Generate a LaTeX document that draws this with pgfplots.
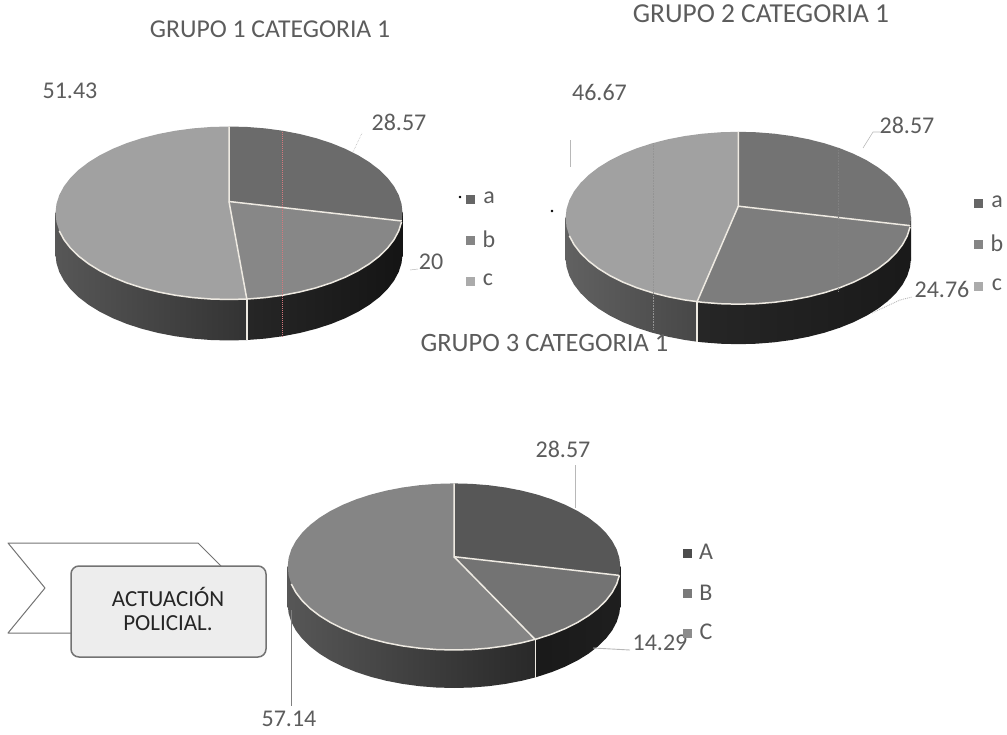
\documentclass[border=0pt]{standalone}
\usepackage{pgfplots}
\pgfplotsset{compat=1.18}
\usepackage{fontspec}
\setmainfont{Carlito}
\definecolor{ink}{gray}{0.36}
\definecolor{lead}{gray}{0.72}
\pgfplotsset{
  pieaxis/.style={hide axis, scale only axis, clip=false, xmin=-1, xmax=1, ymin=-1, ymax=1, anchor=south west},
  slice/.style={draw=none, fill=#1, data cs=polar},
  rim/.style={draw={rgb,255:red,238;green,234;blue,226}, line width=1.5pt, data cs=polar},
  sep/.style={draw={rgb,255:red,238;green,234;blue,226}, line width=1.6pt},
  wall/.style 2 args={draw=none, left color=#1, right color=#2},
  swatch/.style={only marks, mark=square*, mark size=4.3pt, mark options={draw=#1, fill=#1, line width=.1pt}},
}
\begin{document}
\begin{tikzpicture}[x=1pt,y=1pt]
\path[use as bounding box] (0,0) rectangle (1007pt,734pt);

% Grupo 1: a 28.57, b 20, c 51.43 (angles are seen in perspective on the ellipse)
\begin{axis}[pieaxis, width=347pt, height=173pt, at={(55.5pt,434.5pt)}]
  % side wall
  \addplot[wall={black!66}{black!80}] coordinates {(-1,0) (.1026,0) (.1026,-.504) (-1,-.504) (-1,0)};
  \addplot[wall={black!66}{black!80}, yshift=-41pt, data cs=polar] coordinates {(0,.1026) (180,1) (186,1) (192,1) (198,1) (204,1) (210,1) (216,1) (222,1) (228,1) (234,1) (240,1) (246,1) (252,1) (258,1) (264,1) (270,1) (275.9,1) (0,.1026)};
  \addplot[wall={black!85}{black!92}] coordinates {(.1026,0) (1,0) (1,-.504) (.1026,-.504) (.1026,0)};
  \addplot[wall={black!85}{black!92}, yshift=-41pt, data cs=polar] coordinates {(0,.1026) (275.9,1) (282,1) (288,1) (294,1) (300,1) (306,1) (312,1) (318,1) (324,1) (330,1) (336,1) (342,1) (348,1) (354,1) (360,1) (0,.1026)};
  \addplot[sep] coordinates {(.1026,-.995) (.1026,-1.469)};
  % top face
  \addplot[slice={black!58}] coordinates {(90,.133) (90,1) (84,1) (78,1) (72,1) (66,1) (60,1) (54,1) (48,1) (42,1) (36,1) (30,1) (24,1) (18,1) (12,1) (6,1) (0,1) (-5.3,1) (90,.133)};
  \addplot[slice={black!47}] coordinates {(90,.133) (-5.3,1) (-6,1) (-12,1) (-18,1) (-24,1) (-30,1) (-36,1) (-42,1) (-48,1) (-54,1) (-60,1) (-66,1) (-72,1) (-78,1) (-84,1) (-84.1,1) (90,.133)};
  \addplot[slice={black!37}] coordinates {(90,.133) (-84.1,1) (-90,1) (-96,1) (-102,1) (-108,1) (-114,1) (-120,1) (-126,1) (-132,1) (-138,1) (-144,1) (-150,1) (-156,1) (-162,1) (-168,1) (-174,1) (-180,1) (-186,1) (-192,1) (-198,1) (-204,1) (-210,1) (-216,1) (-222,1) (-228,1) (-234,1) (-240,1) (-246,1) (-252,1) (-258,1) (-264,1) (-270,1) (90,.133)};
  \addplot[rim] coordinates {(-168,1) (-162,1) (-156,1) (-150,1) (-144,1) (-138,1) (-132,1) (-126,1) (-120,1) (-114,1) (-108,1) (-102,1) (-96,1) (-90,1) (-84,1) (-78,1) (-72,1) (-66,1) (-60,1) (-54,1) (-48,1) (-42,1) (-36,1) (-30,1) (-24,1) (-18,1) (-12,1) (-6,1)};
  \addplot[rim] coordinates {(90,1) (90,.133) (-5.3,1)};
  \addplot[rim] coordinates {(90,.133) (-84.1,1)};
\end{axis}

% Grupo 2: a 28.57, b 24.76, c 46.67
\begin{axis}[pieaxis, width=345.4pt, height=172.4pt, at={(565.6pt,429.8pt)}]
  \addplot[wall={black!62}{black!72}] coordinates {(-1,0) (-.238,0) (-.238,-.494) (-1,-.494) (-1,0)};
  \addplot[wall={black!62}{black!72}, yshift=-40pt, data cs=polar] coordinates {(180,.238) (180,1) (186,1) (192,1) (198,1) (204,1) (210,1) (216,1) (222,1) (228,1) (234,1) (240,1) (246,1) (252,1) (256.2,1) (180,.238)};
  \addplot[wall={black!85}{black!90}] coordinates {(-.238,0) (1,0) (1,-.494) (-.238,-.494) (-.238,0)};
  \addplot[wall={black!85}{black!90}, yshift=-40pt, data cs=polar] coordinates {(180,.238) (256.2,1) (258,1) (264,1) (270,1) (276,1) (282,1) (288,1) (294,1) (300,1) (306,1) (312,1) (318,1) (324,1) (330,1) (336,1) (342,1) (348,1) (354,1) (360,1) (180,.238)};
  \addplot[sep] coordinates {(-.238,-.972) (-.238,-1.436)};
  \addplot[slice={black!55}] coordinates {(90,.137) (90,1) (84,1) (78,1) (72,1) (66,1) (60,1) (54,1) (48,1) (42,1) (36,1) (30,1) (24,1) (18,1) (12,1) (6,1) (0,1) (-5.1,1) (90,.137)};
  \addplot[slice={black!51}] coordinates {(90,.137) (-5.1,1) (-6,1) (-12,1) (-18,1) (-24,1) (-30,1) (-36,1) (-42,1) (-48,1) (-54,1) (-60,1) (-66,1) (-72,1) (-78,1) (-84,1) (-90,1) (-96,1) (-102,1) (-103.8,1) (90,.137)};
  \addplot[slice={black!37}] coordinates {(90,.137) (-103.8,1) (-108,1) (-114,1) (-120,1) (-126,1) (-132,1) (-138,1) (-144,1) (-150,1) (-156,1) (-162,1) (-168,1) (-174,1) (-180,1) (-186,1) (-192,1) (-198,1) (-204,1) (-210,1) (-216,1) (-222,1) (-228,1) (-234,1) (-240,1) (-246,1) (-252,1) (-258,1) (-264,1) (-270,1) (90,.137)};
  \addplot[rim] coordinates {(-168,1) (-162,1) (-156,1) (-150,1) (-144,1) (-138,1) (-132,1) (-126,1) (-120,1) (-114,1) (-108,1) (-102,1) (-96,1) (-90,1) (-84,1) (-78,1) (-72,1) (-66,1) (-60,1) (-54,1) (-48,1) (-42,1) (-36,1) (-30,1) (-24,1) (-18,1) (-12,1) (-6,1)};
  \addplot[rim] coordinates {(90,1) (90,.137) (-5.1,1)};
  \addplot[rim] coordinates {(90,.137) (-103.8,1)};
\end{axis}

% Grupo 3: A 28.57, B 14.29, C 57.14
\begin{axis}[pieaxis, width=332.6pt, height=166.6pt, at={(287.7pt,84pt)}]
  \addplot[wall={black!66}{black!84}] coordinates {(-1,0) (.489,0) (.489,-.486) (-1,-.486) (-1,0)};
  \addplot[wall={black!66}{black!84}, yshift=-38pt, data cs=polar] coordinates {(0,.489) (180,1) (186,1) (192,1) (198,1) (204,1) (210,1) (216,1) (222,1) (228,1) (234,1) (240,1) (246,1) (252,1) (258,1) (264,1) (270,1) (276,1) (282,1) (288,1) (294,1) (299.2,1) (0,.489)};
  \addplot[wall={black!90}{black!88}] coordinates {(.489,0) (1,0) (1,-.486) (.489,-.486) (.489,0)};
  \addplot[wall={black!90}{black!88}, yshift=-38pt, data cs=polar] coordinates {(0,.489) (299.2,1) (300,1) (306,1) (312,1) (318,1) (324,1) (330,1) (336,1) (342,1) (348,1) (354,1) (360,1) (0,.489)};
  \addplot[sep] coordinates {(.489,-.875) (.489,-1.331)};
  \addplot[slice={black!66}] coordinates {(90,.12) (90,1) (84,1) (78,1) (72,1) (66,1) (60,1) (54,1) (48,1) (42,1) (36,1) (30,1) (24,1) (18,1) (12,1) (6,1) (0,1) (-6,1) (90,.12)};
  \addplot[slice={black!55}] coordinates {(90,.12) (-6,1) (-12,1) (-18,1) (-24,1) (-30,1) (-36,1) (-42,1) (-48,1) (-54,1) (-60,1) (-60.8,1) (90,.12)};
  \addplot[slice={black!48}] coordinates {(90,.12) (-60.8,1) (-66,1) (-72,1) (-78,1) (-84,1) (-90,1) (-96,1) (-102,1) (-108,1) (-114,1) (-120,1) (-126,1) (-132,1) (-138,1) (-144,1) (-150,1) (-156,1) (-162,1) (-168,1) (-174,1) (-180,1) (-186,1) (-192,1) (-198,1) (-204,1) (-210,1) (-216,1) (-222,1) (-228,1) (-234,1) (-240,1) (-246,1) (-252,1) (-258,1) (-264,1) (-270,1) (90,.12)};
  \addplot[rim] coordinates {(-168,1) (-162,1) (-156,1) (-150,1) (-144,1) (-138,1) (-132,1) (-126,1) (-120,1) (-114,1) (-108,1) (-102,1) (-96,1) (-90,1) (-84,1) (-78,1) (-72,1) (-66,1) (-60,1) (-54,1) (-48,1) (-42,1) (-36,1) (-30,1) (-24,1) (-18,1) (-12,1) (-6,1)};
  \addplot[rim] coordinates {(90,1) (90,.12) (-6,1)};
  \addplot[rim] coordinates {(90,.12) (-60.8,1)};
\end{axis}

% Titles, value labels, legends and the ribbon, in page pixels
\begin{axis}[hide axis, scale only axis, clip=false, width=1007pt, height=734pt, at={(0pt,0pt)}, anchor=south west,
  xmin=0, xmax=1007, ymin=0, ymax=734, y dir=reverse,
  nodes={font=\fontsize{24}{27}\selectfont, text=ink, inner sep=0pt}]

  % scanning streaks across the first two discs
  \addplot[densely dotted, line width=1pt, draw={rgb,255:red,214;green,120;blue,125}] coordinates {(282,132) (282,337)};
  \addplot[densely dotted, line width=.6pt, draw=black!42] coordinates {(653,143) (653,330)};
  \addplot[densely dotted, line width=.6pt, draw=black!50] coordinates {(838,150) (838,292)};

  % leader lines
  \addplot[densely dotted, line width=.6pt, draw=lead] coordinates {(353,152) (362,133)};
  \addplot[line width=.5pt, draw=lead] coordinates {(410,270) (418,269)};
  \addplot[line width=.6pt, draw=lead] coordinates {(570,140) (570,167)};
  \addplot[line width=.6pt, draw=lead] coordinates {(863,148) (873,132) (880,132)};
  \addplot[densely dotted, line width=.9pt, draw=lead] coordinates {(872,313) (900,300) (912,297)};
  \addplot[line width=.6pt, draw=lead] coordinates {(575,465) (575,508)};
  \addplot[line width=.9pt, draw=lead] coordinates {(593,648) (630,650)};
  \addplot[line width=.7pt, draw=black!50] coordinates {(291,610) (291,706)};

  \node[font=\fontsize{25.7}{28}\selectfont] at (axis cs:270,29) {GRUPO 1 CATEGORIA 1};
  \node[font=\fontsize{27.4}{30}\selectfont] at (axis cs:761,14) {GRUPO 2 CATEGORIA 1};
  \node[font=\fontsize{26.5}{29}\selectfont] at (axis cs:544.5,343) {GRUPO 3 CATEGORIA 1};

  \node at (axis cs:70,91) {51.43};
  \node at (axis cs:399,122) {28.57};
  \node at (axis cs:431,262) {20};
  \node at (axis cs:599.5,92) {46.67};
  \node at (axis cs:907,125) {28.57};
  \node at (axis cs:942,289) {24.76};
  \node at (axis cs:563,449) {28.57};
  \node at (axis cs:660,643) {14.29};
  \node at (axis cs:289,719) {57.14};

  % legend swatches
  \addplot[swatch=black!60] coordinates {(470,199) (978,203)};
  \addplot[swatch=black!48] coordinates {(470,240) (978,244)};
  \addplot[swatch=black!33] coordinates {(470,281) (978,286)};
  \addplot[swatch=black!70] coordinates {(687,553)};
  \addplot[swatch=black!52] coordinates {(687,593)};
  \addplot[swatch=black!45] coordinates {(687,633)};
  \node at (axis cs:489,198) {a};
  \node at (axis cs:489,239) {b};
  \node at (axis cs:488,280) {c};
  \node at (axis cs:997,202) {a};
  \node at (axis cs:997,243) {b};
  \node at (axis cs:997,285) {c};
  \node at (axis cs:706,552) {A};
  \node at (axis cs:706,593) {B};
  \node at (axis cs:706,632) {C};

  % specks left on the page
  \addplot[only marks, mark=*, mark size=1pt, mark options={draw=black, fill=black}] coordinates {(460,197)};
  \addplot[only marks, mark=*, mark size=1.2pt, mark options={draw=black, fill=black}] coordinates {(552,211)};

  % ribbon behind the caption box
  \draw[black!55, line width=1pt, line join=round] (axis cs:71,633) -- (axis cs:8,633) -- (axis cs:45,588) -- (axis cs:8,543) -- (axis cs:198,543) -- (axis cs:221,566);
  \draw[black!55, fill=black!7, line width=1.5pt, rounded corners=8pt] (axis cs:71,566) rectangle (axis cs:266,657);
  \node[text=black!85, align=center, font=\fontsize{23}{24}\selectfont] at (axis cs:168,609) {ACTUACIÓN\\POLICIAL.};
\end{axis}
\end{tikzpicture}
\end{document}
